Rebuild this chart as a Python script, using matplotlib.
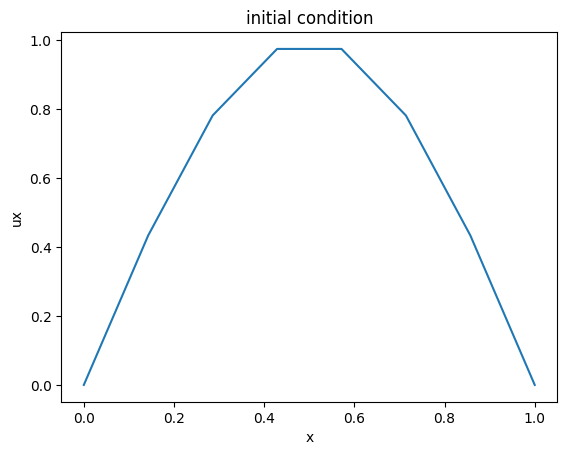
import matplotlib
matplotlib.use("Agg")
import matplotlib.pyplot as plt

x = [0.0, 0.142857, 0.285714, 0.428571, 0.571429, 0.714286, 0.857143, 1.0]
ux = [0.0, 0.4339, 0.7818, 0.9749, 0.9749, 0.7818, 0.4339, 0.0]

fig, ax = plt.subplots(figsize=(6.4, 4.8), dpi=100)
ax.plot(x, ux)
ax.set_title("initial condition")
ax.set_xlabel("x")
ax.set_ylabel("ux")
fig.savefig("out.png", dpi=100, bbox_inches="tight")
